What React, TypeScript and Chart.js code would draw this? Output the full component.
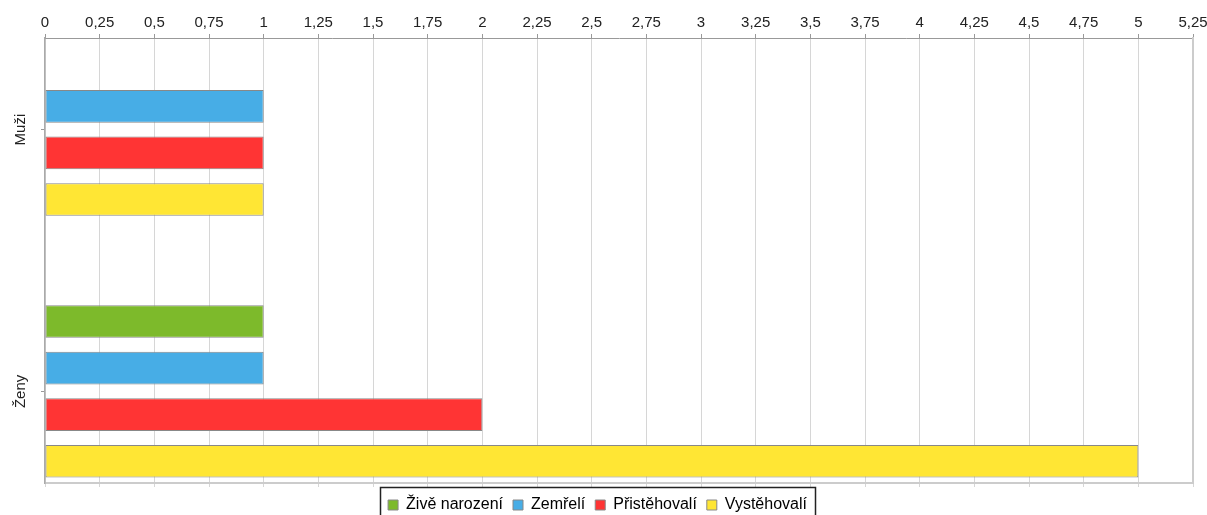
import React, { useEffect, useRef } from 'react';
import { Chart, registerables } from 'chart.js';

Chart.register(...registerables);

const categories = ['Muži', 'Ženy'];
const seriesNames = ['Živě narození', 'Zemřelí', 'Přistěhovalí', 'Vystěhovalí'];
const zivaNarozeni: (number | null)[] = [null, 1];
const zemreli: (number | null)[] = [1, 1];
const pristehovali: (number | null)[] = [1, 2];
const vystehovali: (number | null)[] = [1, 5];
const seriesValues = [zivaNarozeni, zemreli, pristehovali, vystehovali];
const seriesColors = ['#7DBA2B', '#47ADE6', '#FF3434', '#FFE634'];
const xMin = 0;
const xMax = 5.25;
const xStep = 0.25;

const FONT = "'Liberation Sans', Arial, sans-serif";

const fmt = (v: number) => String(Number(Number(v).toFixed(2))).replace('.', ',');

const legendFrame = {
  id: 'legendFrame',
  afterDraw(chart: any) {
    const lg = chart.legend;
    if (!lg || !lg.legendHitBoxes || !lg.legendHitBoxes.length) return;
    let l = Infinity, r = -Infinity, t = Infinity;
    lg.legendHitBoxes.forEach((b: any) => {
      l = Math.min(l, b.left);
      r = Math.max(r, b.left + b.width);
      t = Math.min(t, b.top);
    });
    const ctx = chart.ctx;
    ctx.save();
    ctx.strokeStyle = '#222';
    ctx.lineWidth = 1.5;
    ctx.strokeRect(Math.round(l - 8) + 0.5, Math.round(t - 10) + 0.5, Math.round(r - l + 16), chart.height - t + 20);
    ctx.restore();
  },
};

export default function App() {
  const ref = useRef<HTMLCanvasElement | null>(null);
  useEffect(() => {
    if (!ref.current) return;
    const datasets = seriesNames.map((name, si) => ({
      label: name,
      data: seriesValues[si].map((v, ci) => ({ x: v, y: ci })),
      backgroundColor: seriesColors[si],
      borderColor: '#888888',
      borderWidth: 1,
      borderSkipped: false,
      categoryPercentage: 0.712,
      barPercentage: 0.7,
    }));
    const chart = new Chart(ref.current, {
      type: 'bar',
      data: { datasets },
      plugins: [legendFrame],
      options: {
        indexAxis: 'y',
        animation: false,
        responsive: false,
        maintainAspectRatio: false,
        layout: { padding: { top: 12, bottom: -8, left: 0, right: 12 } },
        plugins: {
          tooltip: { enabled: false },
          legend: {
            position: 'bottom',
            labels: {
              boxWidth: 10,
              boxHeight: 10,
              padding: 10,
              color: '#000',
              font: { family: FONT, size: 16 },
            },
          },
        },
        scales: {
          x: {
            type: 'linear',
            position: 'top',
            min: xMin,
            max: xMax,
            afterFit: (scale: any) => {
              scale.paddingRight = 14;
            },
            ticks: {
              stepSize: xStep,
              color: '#222',
              padding: 2,
              font: { family: FONT, size: 15 },
              callback: (v: any) => fmt(v),
            },
            grid: { color: '#d6d6d6', tickColor: '#999', tickLength: 4, lineWidth: 1 },
            border: { color: '#999', width: 1 },
          },
          x2: {
            type: 'linear',
            position: 'bottom',
            min: xMin,
            max: xMax,
            ticks: { stepSize: xStep, display: false },
            grid: { drawOnChartArea: false, tickLength: 4, tickColor: '#d6d6d6' },
            border: { color: '#cccccc', width: 2 },
          },
          y: {
            type: 'linear',
            position: 'left',
            reverse: true,
            offset: false,
            min: -0.35,
            max: 1.35,
            afterBuildTicks: (scale: any) => {
              scale.ticks = categories.map((_, i) => ({ value: i }));
            },
            afterFit: (scale: any) => {
              scale.width = 45;
            },
            ticks: {
              autoSkip: false,
              minRotation: 90,
              maxRotation: 90,
              crossAlign: 'center',
              padding: 3,
              color: '#222',
              font: { family: FONT, size: 15 },
              callback: (v: any) => categories[Math.round(v)] ?? '',
            },
            grid: { offset: false, drawOnChartArea: false, tickLength: 4, tickColor: '#999' },
            border: { color: '#aaa', width: 1.5 },
          },
          y2: {
            type: 'linear',
            position: 'right',
            min: 0,
            max: 1,
            ticks: { display: false },
            grid: { display: false, drawTicks: false },
            border: { color: '#cccccc', width: 2 },
          },
        },
      } as any,
    });
    return () => chart.destroy();
  }, []);
  return (
    <div style={{ position: 'absolute', left: 0, top: 0, width: 1207, height: 515, background: '#fff' }}>
      <canvas ref={ref} width={1207} height={515} style={{ width: 1207, height: 515, display: 'block' }} />
    </div>
  );
}
